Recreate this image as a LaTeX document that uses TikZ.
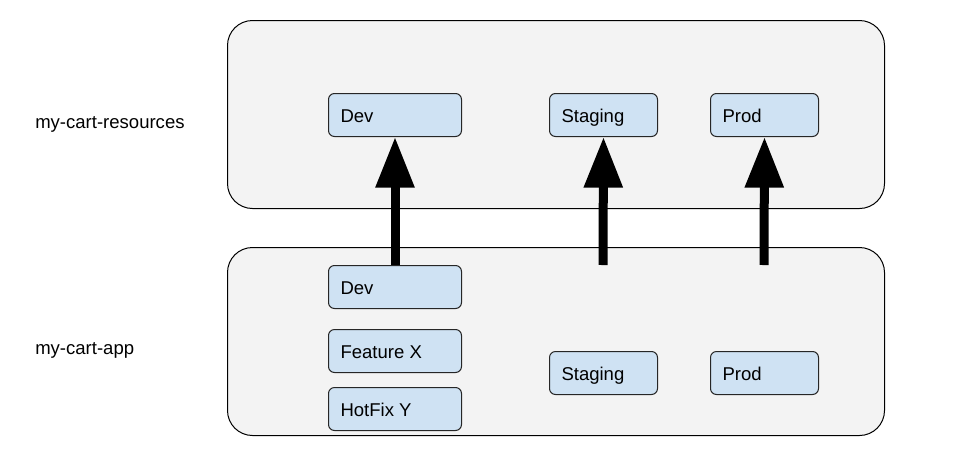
\documentclass[tikz,border=0pt]{standalone}
\usepackage{fontspec}
\setmainfont{Liberation Sans}
\usetikzlibrary{arrows.meta}
\definecolor{panel}{HTML}{F3F3F3}
\definecolor{boxblue}{HTML}{CFE2F3}
\newcommand\wtext[1]{\makebox[81.75pt][l]{#1}}
\newcommand\ntext[1]{\makebox[63pt][l]{#1}}
\begin{document}
\begin{tikzpicture}[x=0.75pt,y=-0.75pt,
  every node/.style={font=\fontsize{13.9}{16}\selectfont},
  panelbox/.style={draw=black, fill=panel, rounded corners=18.75pt, line width=0.75pt,
    anchor=north west, minimum width=492.75pt, minimum height=141pt, inner sep=0pt},
  envbox/.style={draw=black!85, fill=boxblue, rounded corners=4.5pt, line width=0.75pt,
    anchor=north west, inner xsep=9pt, inner ysep=0pt, minimum height=32.25pt,
    text height=13pt, text depth=1.8pt},
  sidelabel/.style={anchor=west, inner sep=0pt},
  bigarrow/.style={line width=6.75pt, -{Triangle[width=27.75pt,length=38pt]}}
]
\useasboundingbox (0,0) rectangle (960,461);
% panels
\node[panelbox] (ptop) at (227,20) {};
\node[panelbox] (pbot) at (227,247) {};
% side labels
\node[sidelabel] (lres) at (35,124.5) {my-cart-resources};
\node[sidelabel] (lapp) at (35,350.5) {my-cart-app};
% anchors for arrow starts
\coordinate (sstart) at (603,265);
\coordinate (pstart) at (764,265);
% top boxes
\node[envbox] (rdev) at (328,93) {\wtext{Dev}};
\node[envbox] (rstg) at (549,93) {\ntext{Staging}};
\node[envbox] (rprod) at (710,93) {\ntext{Prod}};
% bottom boxes
\node[envbox] (adev) at (328,265) {\wtext{Dev}};
\node[envbox] (afeat) at (328,329) {\wtext{Feature X}};
\node[envbox] (ahot) at (328,387) {\wtext{HotFix Y}};
\node[envbox] (astg) at (549,351) {\ntext{Staging}};
\node[envbox] (aprod) at (710,351) {\ntext{Prod}};
% arrows
\draw[bigarrow] (adev.north) -- (rdev.south);
\draw[bigarrow] (sstart) -- (rstg.south);
\draw[bigarrow] (pstart) -- (rprod.south);
\end{tikzpicture}
\end{document}
